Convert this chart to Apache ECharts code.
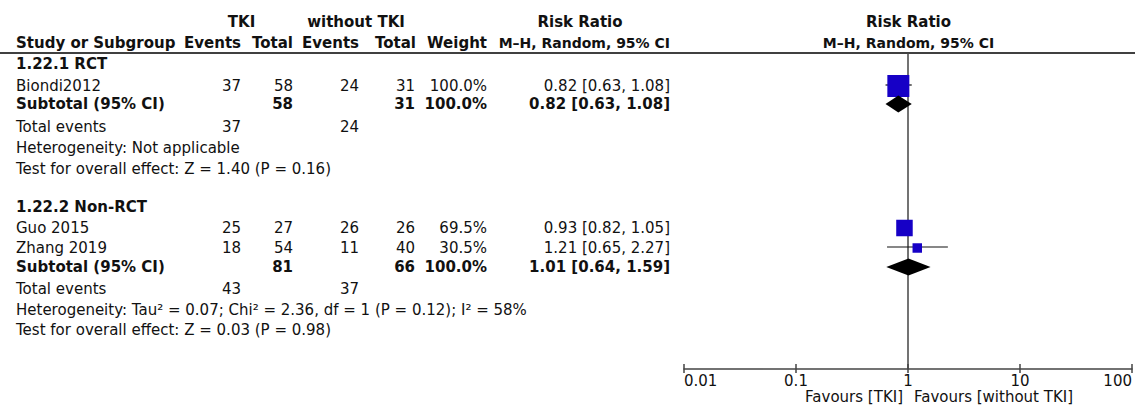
<!DOCTYPE html>
<html><head><meta charset="utf-8">
<script src="https://cdn.jsdelivr.net/npm/echarts@6/dist/echarts.min.js"></script>
<style>html,body{margin:0;padding:0;background:#fff}#c{width:1135px;height:406px}</style>
</head><body><div id="c"></div>
<script>
// ---------- data ----------
const studyNames = ['Biondi2012', 'Guo 2015', 'Zhang 2019'];
const studyGroup = [0, 1, 1];
const tkiEvents = [37, 25, 18];
const tkiTotal = [58, 27, 54];
const ctlEvents = [24, 26, 11];
const ctlTotal = [31, 26, 40];
const weightPct = [100.0, 69.5, 30.5];
const rr = [0.82, 0.93, 1.21];
const rrLo = [0.63, 0.82, 0.65];
const rrHi = [1.08, 1.05, 2.27];

const groupNames = ['1.22.1 RCT', '1.22.2 Non-RCT'];
const subTkiTotal = [58, 81];
const subCtlTotal = [31, 66];
const subWeight = [100.0, 100.0];
const subRR = [0.82, 1.01];
const subLo = [0.63, 0.64];
const subHi = [1.08, 1.59];
const totEvTki = [37, 43];
const totEvCtl = [24, 37];
const hetText = ['Heterogeneity: Not applicable',
  'Heterogeneity: Tau² = 0.07; Chi² = 2.36, df = 1 (P = 0.12); I² = 58%'];
const testText = ['Test for overall effect: Z = 1.40 (P = 0.16)',
  'Test for overall effect: Z = 0.03 (P = 0.98)'];
const xTicks = [0.01, 0.1, 1, 10, 100];
const favourLeft = 'Favours [TKI]';
const favourRight = 'Favours [without TKI]';

// ---------- layout ----------
const W = 1135, H = 406;
const LAY = {
  hdr1: 22, hdr2: 43, line: 53, axisY: 369, favY: 397,
  groups: [
    { title: 64, studies: [86], sub: 104, tot: 127, het: 148, test: 169 },
    { title: 207, studies: [228, 248], sub: 267, tot: 289, het: 310, test: 330 }
  ],
  col: { name: 16, tkiEv: 241, tkiTot: 293, ctlEv: 359, ctlTot: 415, wt: 487, ci: 670 },
  plotLeft: 684, plotRight: 1133
};
const FONT = '"DejaVu Sans", "Noto Sans", sans-serif';
const fReg = '15px ' + FONT, fBold = 'bold 15px ' + FONT, fBoldS = 'bold 14px ' + FONT;
const TXT = '#111';

function studyY(i) {
  const g = studyGroup[i];
  let k = 0;
  for (let j = 0; j < i; j++) if (studyGroup[j] === g) k++;
  return LAY.groups[g].studies[k];
}
const ci = (e, l, h) => e.toFixed(2) + ' [' + l.toFixed(2) + ', ' + h.toFixed(2) + ']';

const texts = [];
function T(str, x, y, align, bold, font) {
  texts.push({
    type: 'text', x: x, y: y, silent: true,
    style: { text: String(str), font: font || (bold ? fBold : fReg), fill: TXT,
      align: align, verticalAlign: 'middle', textAlign: align, textVerticalAlign: 'middle' }
  });
}
const C = LAY.col;
// headers
T('TKI', (190 + C.tkiTot) / 2, LAY.hdr1, 'center', true);
T('without TKI', 356, LAY.hdr1, 'center', true);
T('Risk Ratio', 580, LAY.hdr1, 'center', true);
T('Risk Ratio', 908.5, LAY.hdr1, 'center', true);
T('Study or Subgroup', C.name, LAY.hdr2, 'left', true);
T('Events', C.tkiEv, LAY.hdr2, 'right', true);
T('Total', C.tkiTot, LAY.hdr2, 'right', true);
T('Events', C.ctlEv, LAY.hdr2, 'right', true);
T('Total', C.ctlTot + 1, LAY.hdr2, 'right', true);
T('Weight', C.wt, LAY.hdr2, 'right', true);
T('M–H, Random, 95% CI', C.ci, LAY.hdr2, 'right', true, fBoldS);
T('M–H, Random, 95% CI', 908.5, LAY.hdr2, 'center', true, fBoldS);

studyNames.forEach((n, i) => {
  const y = studyY(i);
  T(n, C.name, y, 'left');
  T(tkiEvents[i], C.tkiEv, y, 'right');
  T(tkiTotal[i], C.tkiTot, y, 'right');
  T(ctlEvents[i], C.ctlEv, y, 'right');
  T(ctlTotal[i], C.ctlTot, y, 'right');
  T(weightPct[i].toFixed(1) + '%', C.wt, y, 'right');
  T(ci(rr[i], rrLo[i], rrHi[i]), C.ci, y, 'right');
});
groupNames.forEach((g, k) => {
  const G = LAY.groups[k];
  T(g, C.name, G.title, 'left', true);
  T('Subtotal (95% CI)', C.name, G.sub, 'left', true);
  T(subTkiTotal[k], C.tkiTot, G.sub, 'right', true);
  T(subCtlTotal[k], C.ctlTot, G.sub, 'right', true);
  T(subWeight[k].toFixed(1) + '%', C.wt, G.sub, 'right', true);
  T(ci(subRR[k], subLo[k], subHi[k]), C.ci, G.sub, 'right', true);
  T('Total events', C.name, G.tot, 'left');
  T(totEvTki[k], C.tkiEv, G.tot, 'right');
  T(totEvCtl[k], C.ctlEv, G.tot, 'right');
  T(hetText[k], C.name, G.het, 'left');
  T(testText[k], C.name, G.test, 'left');
});
T(favourLeft, 903, LAY.favY, 'right');
T(favourRight, 914, LAY.favY, 'left');

const graphics = [{
  type: 'line', silent: true,
  shape: { x1: 0, y1: LAY.line, x2: W, y2: LAY.line },
  style: { stroke: '#000', lineWidth: 1.5 }
}].concat(texts);

const studyData = studyNames.map((n, i) => [rr[i], rrLo[i], rrHi[i], studyY(i), weightPct[i]]);
const subData = groupNames.map((g, k) => [subRR[k], subLo[k], subHi[k], LAY.groups[k].sub]);

const chart = echarts.init(document.getElementById('c'), null, { renderer: 'svg', width: W, height: H });
const axisCommon = { type: 'log', logBase: 10, min: xTicks[0], max: xTicks[xTicks.length - 1], splitNumber: 4, splitLine: { show: false } };
chart.setOption({
  animation: false,
  graphic: graphics,
  grid: { left: LAY.plotLeft, right: W - LAY.plotRight, top: LAY.line, bottom: H - LAY.axisY, containLabel: false },
  xAxis: [
    Object.assign({}, axisCommon, {
      position: 'bottom',
      axisLine: { show: true, lineStyle: { color: '#444', width: 1.5 } },
      axisTick: { show: true, length: 4, lineStyle: { color: '#444', width: 1.5 } },
      axisLabel: { show: true, margin: 4, color: TXT, fontFamily: FONT, fontSize: 15,
        alignMinLabel: 'left', alignMaxLabel: 'right',
        formatter: v => { const i = xTicks.findIndex(t => Math.abs(t - v) / t < 1e-6); return i >= 0 ? String(xTicks[i]) : ''; } }
    }),
    Object.assign({}, axisCommon, {
      position: 'bottom',
      axisLine: { show: false },
      axisTick: { show: true, inside: true, length: 5, lineStyle: { color: '#444', width: 1.5 } },
      axisLabel: { show: false }
    })
  ],
  yAxis: { type: 'value', inverse: true, min: LAY.line, max: LAY.axisY, show: false },
  series: [
    {
      type: 'custom', name: 'null', z: 1, silent: true,
      data: [[1]],
      encode: { x: 0 },
      renderItem: (params, api) => {
        const cs = params.coordSys;
        const p = api.coord([api.value(0), LAY.line]);
        return { type: 'line', shape: { x1: p[0], y1: cs.y, x2: p[0], y2: cs.y + cs.height },
          style: { stroke: '#444', lineWidth: 1.5 } };
      }
    },
    {
      type: 'custom', name: 'studies', z: 3, silent: true, clip: false,
      data: studyData,
      encode: { x: [0, 1, 2], y: 3 },
      renderItem: (params, api) => {
        const y = api.value(3);
        const c = api.coord([api.value(0), y]);
        const l = api.coord([api.value(1), y]);
        const h = api.coord([api.value(2), y]);
        const s = 4 + 0.18 * api.value(4);
        return { type: 'group', children: [
          { type: 'line', shape: { x1: l[0], y1: l[1] - 1, x2: h[0], y2: h[1] - 1 }, style: { stroke: '#111', lineWidth: 1.2 } },
          { type: 'rect', shape: { x: c[0] - s / 2, y: c[1] - s / 2, width: s, height: s }, style: { fill: '#1600c6' } }
        ] };
      }
    },
    {
      type: 'custom', name: 'subtotals', z: 3, silent: true, clip: false,
      data: subData,
      encode: { x: [0, 1, 2], y: 3 },
      renderItem: (params, api) => {
        const y = api.value(3);
        const c = api.coord([api.value(0), y]);
        const l = api.coord([api.value(1), y]);
        const h = api.coord([api.value(2), y]);
        const hh = 8.5;
        return { type: 'polygon', shape: { points: [[l[0], c[1]], [c[0], c[1] - hh], [h[0], c[1]], [c[0], c[1] + hh]] },
          style: { fill: '#000' } };
      }
    }
  ]
});
</script>
</body></html>
